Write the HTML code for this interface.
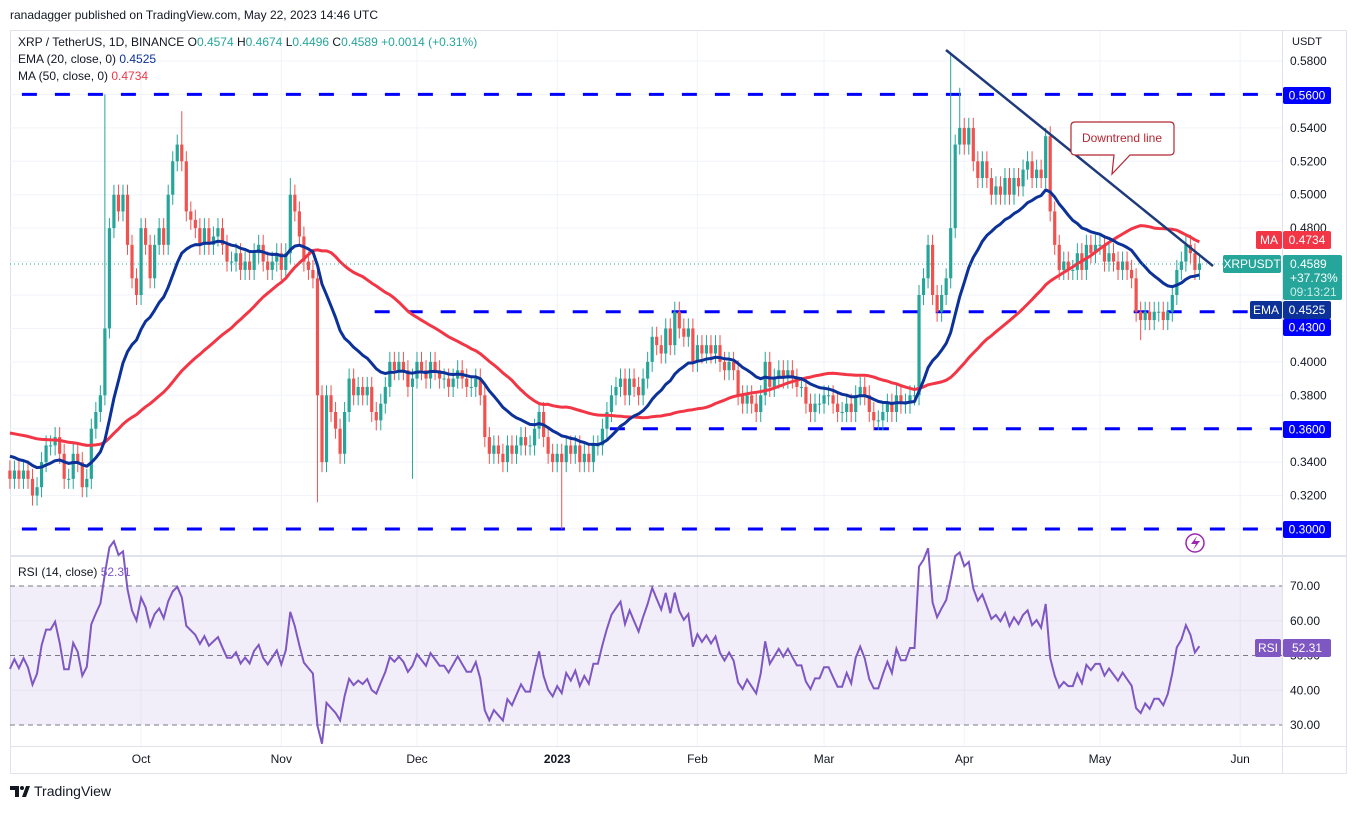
<!DOCTYPE html>
<html><head><meta charset="utf-8">
<style>
body{margin:0;width:1356px;height:809px;background:#fff;font-family:"Liberation Sans",sans-serif;overflow:hidden;position:relative}
svg text{font-family:"Liberation Sans",sans-serif}
</style></head>
<body>
<svg id="c" width="1356" height="809" xmlns="http://www.w3.org/2000/svg">
<text x="10" y="19" font-size="12" fill="#131722">ranadagger published on TradingView.com, May 22, 2023 14:46 UTC</text>
<rect x="10.5" y="30.5" width="1336" height="743" fill="none" stroke="#e0e3eb"/>
<g id="grid"></g>
<g id="levels"></g>
<g id="candles"></g>
<g id="lines"></g>
<g id="rsi"></g>
<g id="axes"></g>
<g id="overlay"></g>
</svg>
<script>
const closes=[
0.33,0.335,0.33,0.335,0.33,0.32,0.325,0.34,0.35,0.35,0.355,0.345,0.33,0.33,0.345,0.34,0.325,0.33,0.36,0.37,0.38,
0.42,0.48,0.50,0.49,0.50,0.47,0.45,0.44,0.48,
0.47,0.45,0.47,0.48,0.47,0.50,0.52,0.53,0.52,0.49,0.485,0.48,0.47,0.48,0.47,0.475,0.48,0.47,0.46,0.46,0.465,0.455,0.46,0.455,0.465,0.47,0.46,0.455,0.46,0.465,0.455,
0.465,0.50,0.49,0.475,0.46,0.455,0.45,0.38,0.34,0.38,0.37,0.36,0.345,0.37,0.39,0.38,0.385,0.38,0.385,0.37,0.365,0.375,0.385,0.40,0.395,0.40,0.395,0.385,0.39,0.40,
0.395,0.39,0.40,0.395,0.39,0.39,0.385,0.39,0.395,0.39,0.385,0.385,0.39,0.38,0.355,0.345,0.35,0.345,0.34,0.35,0.345,0.35,0.355,0.35,0.35,0.36,0.37,0.355,0.345,0.34,0.345,
0.34,0.35,0.345,0.35,0.34,0.345,0.34,0.35,0.35,0.36,0.37,0.38,0.385,0.39,0.38,0.39,0.385,0.38,0.39,0.40,0.415,0.41,0.405,0.42,0.41,0.43,0.42,0.415,0.42,0.40,0.41,
0.405,0.41,0.405,0.41,0.40,0.395,0.40,0.395,0.38,0.375,0.38,0.375,0.37,0.38,0.40,0.385,0.39,0.395,0.39,0.395,0.39,0.385,0.385,0.375,0.37,0.375,0.375,0.38,
0.38,0.375,0.37,0.37,0.375,0.37,0.38,0.385,0.38,0.37,0.365,0.365,0.37,0.375,0.37,0.38,0.375,0.375,0.38,0.38,0.44,0.45,0.47,0.44,0.43,0.44,0.45,0.48,0.53,0.54,0.53,
0.54,0.52,0.51,0.52,0.51,0.50,0.505,0.50,0.51,0.50,0.51,0.505,0.515,0.52,0.51,0.515,0.51,0.535,0.49,0.47,0.455,0.46,0.455,0.455,0.465,0.455,0.47,0.465,0.47,0.47,
0.46,0.465,0.46,0.455,0.46,0.455,0.45,0.43,0.425,0.43,0.425,0.43,0.43,0.425,0.43,0.44,0.455,0.46,0.47,0.465,0.455,0.4589];
const firstOpen=0.335;
const wickSize=0.006;
const extremeHighs={21:0.56,38:0.55,62:0.51,208:0.585,210:0.564,229:0.54};
const extremeLows={68:0.316,122:0.30,89:0.33,250:0.413};
const priceTicks=[0.58,0.56,0.54,0.52,0.50,0.48,0.46,0.44,0.42,0.40,0.38,0.36,0.34,0.32,0.30];
const levelPrices=[0.56,0.43,0.36,0.30];
const levelStartDay=[0,78,130,0];
const monthLabels=["Oct","Nov","Dec","2023","Feb","Mar","Apr","May","Jun"];
const monthDays=[30,61,91,122,153,181,212,242,273];
const rsiTicks=[70,60,50,40,30];

const NS="http://www.w3.org/2000/svg";
const X=d=>5.4+d*4.523+4.5;
const Y=p=>529-(p-0.30)*1671.4;
const RY=v=>725-(v-30)*3.475;
function mk(tag,attrs,parent){const e=document.createElementNS(NS,tag);for(const k in attrs)e.setAttribute(k,attrs[k]);parent.appendChild(e);return e;}
const G=id=>document.getElementById(id);

const grid=G('grid');
priceTicks.forEach(p=>{const l=mk('line',{x1:10,x2:1282,y1:Y(p),y2:Y(p),stroke:'#f0f3fa'},grid);

});
monthDays.forEach(d=>{const l=mk('line',{x1:X(d)-4.5,x2:X(d)-4.5,y1:31,y2:746,stroke:'#f0f3fa'},grid);

});
const rsi=G('rsi');
mk('line',{x1:10,x2:1346,y1:556,y2:556,stroke:'#e0e3eb',"stroke-width":2},rsi);
const band=mk('rect',{x:10,y:RY(70),width:1272,height:RY(30)-RY(70),fill:'#7e57c2','fill-opacity':0.1},rsi);


[60,40].forEach(v=>mk('line',{x1:10,x2:1282,y1:RY(v),y2:RY(v),stroke:'#e6e2f0'},rsi));
[70,50,30].forEach(v=>{const l=mk('line',{x1:10,x2:1282,y1:RY(v),y2:RY(v),stroke:'#787b86','stroke-dasharray':'5,4'},rsi);

});

const lv=G('levels');
levelPrices.forEach((p,i)=>{const l=mk('line',{x1:X(levelStartDay[i])+12,x2:1282,y1:Y(p),y2:Y(p),stroke:'#0000ff','stroke-width':3,'stroke-dasharray':'15,18'},lv);

});

const cg=G('candles');
let prev=firstOpen;
const opens=[];
closes.forEach((c,i)=>{
 const o=prev;opens.push(o);prev=c;
 const up=c>=o;const col=up?'#26a69a':'#ef5350';
 let hi=Math.max(o,c)+wickSize, lo=Math.min(o,c)-wickSize;
 if(extremeHighs[i]!==undefined)hi=extremeHighs[i];
 if(extremeLows[i]!==undefined)lo=extremeLows[i];
 const x=X(i);
 const w=mk('line',{x1:x,x2:x,y1:Y(hi),y2:Y(lo),stroke:col,'stroke-width':1},cg);
 
 
 const top=Y(Math.max(o,c)),bh=Math.max(1,Y(Math.min(o,c))-top);
 const b=mk('rect',{x:x-1.6,y:top,width:3.2,height:bh,fill:col},cg);
 
 
});

const lg=G('lines');
let ema=0.345;const emaPts=[];const k=2/21;
closes.forEach((c,i)=>{ema=c*k+ema*(1-k);emaPts.push([X(i),Y(ema)]);});
const hist=new Array(49).fill(0.358).concat(closes);
const maPts=[];
closes.forEach((c,i)=>{let s=0;for(let j=i;j<i+50;j++)s+=hist[j];maPts.push([X(i),Y(s/50)]);});
const pl=pts=>pts.map(p=>p[0].toFixed(1)+','+p[1].toFixed(1)).join(' ');
const maL=mk('polyline',{points:pl(maPts),fill:'none',stroke:'#f23645','stroke-width':3,'stroke-linejoin':'round'},lg);


const emL=mk('polyline',{points:pl(emaPts),fill:'none',stroke:'#0c3299','stroke-width':3,'stroke-linejoin':'round'},lg);



let ag=0.0035,al=0.0037;const rsiPts=[];
closes.forEach((c,i)=>{const d=c-opens[i];const g=Math.max(d,0),l=Math.max(-d,0);ag=(ag*13+g)/14;al=(al*13+l)/14;const r=100-100/(1+ag/(al||1e-9));rsiPts.push([X(i),RY(r)]);});
const rl=mk('polyline',{points:pl(rsiPts),fill:'none',stroke:'#7e57c2','stroke-width':2},rsi);



const ax=G('axes');
mk('line',{x1:1282.5,x2:1282.5,y1:31,y2:773,stroke:'#e0e3eb'},ax);
mk('line',{x1:10,x2:1346,y1:746.5,y2:746.5,stroke:'#e0e3eb'},ax);
const ut=mk('text',{x:1292,y:45,'font-size':11,fill:'#131722'},ax);ut.textContent='USDT';
priceTicks.forEach(p=>{const t=mk('text',{x:1290,y:Y(p)+4,'font-size':12,fill:'#131722'},ax);t.textContent=p.toFixed(4);

});
rsiTicks.forEach(v=>{const t=mk('text',{x:1290,y:RY(v)+4,'font-size':12,fill:'#131722'},ax);t.textContent=v.toFixed(2);

});
monthLabels.forEach((m,i)=>{const t=mk('text',{x:X(monthDays[i])-4.5,y:763,'font-size':12,fill:'#131722','text-anchor':'middle','font-weight':m==='2023'?'bold':'normal'},ax);t.textContent=m;

});

const ov=G('overlay');
mk('line',{x1:10,x2:1282,y1:264,y2:264,stroke:'#26a69a','stroke-dasharray':'1,3'},ov);
const tl=mk('line',{x1:946,y1:50,x2:1213,y2:266,stroke:'#1e3a7b','stroke-width':2.5},ov);


function label(x,y,w,h,fill,txt,col,size){const r=mk('rect',{x:x,y:y,width:w,height:h,fill:fill,rx:2},ov);const t=mk('text',{x:x+w/2,y:y+h/2+4,'font-size':size||12,fill:col||'#fff','text-anchor':'middle'},ov);t.textContent=txt;return r;}
let r;
r=label(1283,87,48,17,'#0000ff','0.5600');
r=label(1256,231,26,18,'#f23645','MA');
r=label(1283,231,48,18,'#f23645','0.4734');
r=label(1223,255,58,18,'#26a69a','XRPUSDT');
r=mk('rect',{x:1283,y:255,width:59,height:45,fill:'#26a69a',rx:2},ov);


[['0.4589',268,'#fff'],['+37.73%',282,'#fff'],['09:13:21',296,'#c8ece8']].forEach(a=>{const t=mk('text',{x:1290,y:a[1],'font-size':12,fill:a[2]},ov);t.textContent=a[0];});
r=label(1250,301,32,18,'#0c3299','EMA');
r=label(1283,301,48,18,'#0c3299','0.4525');
r=label(1283,319,48,17,'#0000ff','0.4300');
r=label(1283,421,48,17,'#0000ff','0.3600');
r=label(1283,521,48,17,'#0000ff','0.3000');
r=label(1255,639,26,18,'#7e57c2','RSI');
r=label(1283,639,48,18,'#7e57c2','52.31');
const co=mk('path',{d:'M1075,122 H1170 Q1174,122 1174,126 V151 Q1174,155 1170,155 H1130 L1112,174 L1114,155 H1075 Q1071,155 1071,151 V126 Q1071,122 1075,122 Z',fill:'#fff',stroke:'#b22833','stroke-width':1.2},ov);


const ct=mk('text',{x:1122,y:142,'font-size':12,fill:'#b22833','text-anchor':'middle'},ov);ct.textContent='Downtrend line';
const li=mk('circle',{cx:1195,cy:543,r:9,fill:'none',stroke:'#9c27b0','stroke-width':1.5},ov);


mk('path',{d:'M1197,536 L1191,544 H1196 L1193,550 L1200,541 H1195 Z',fill:'#9c27b0'},ov);
function legend(y,parts,name){const t=mk('text',{x:18,y:y,'font-size':12,fill:'#131722'},ov);parts.forEach(p=>{const s=mk('tspan',{fill:p[1]},t);s.textContent=p[0];});}
legend(46,[['XRP / TetherUS, 1D, BINANCE  O','#131722'],['0.4574','#26a69a'],['  H','#131722'],['0.4674','#26a69a'],['  L','#131722'],['0.4496','#26a69a'],['  C','#131722'],['0.4589','#26a69a'],['  +0.0014 (+0.31%)','#26a69a']],'ohlc-legend');
legend(63,[['EMA (20, close, 0)  ','#131722'],['0.4525','#0c3299']],'ema-legend');
legend(80,[['MA (50, close, 0)  ','#131722'],['0.4734','#f23645']],'ma-legend');
legend(576,[['RSI (14, close)  ','#131722'],['52.31','#7e57c2']],'rsi-legend');
const lt=mk('text',{x:34,y:796,'font-size':14,fill:'#131722'},ov);lt.textContent='TradingView';


mk('path',{d:'M10,786 H19 V797 H15 V790 H10 Z M22,797 L26,786 H30 L26,797 Z',fill:'#131722'},ov);
mk('circle',{cx:22,cy:788,r:2,fill:'#131722'},ov);
</script>
</body></html>
